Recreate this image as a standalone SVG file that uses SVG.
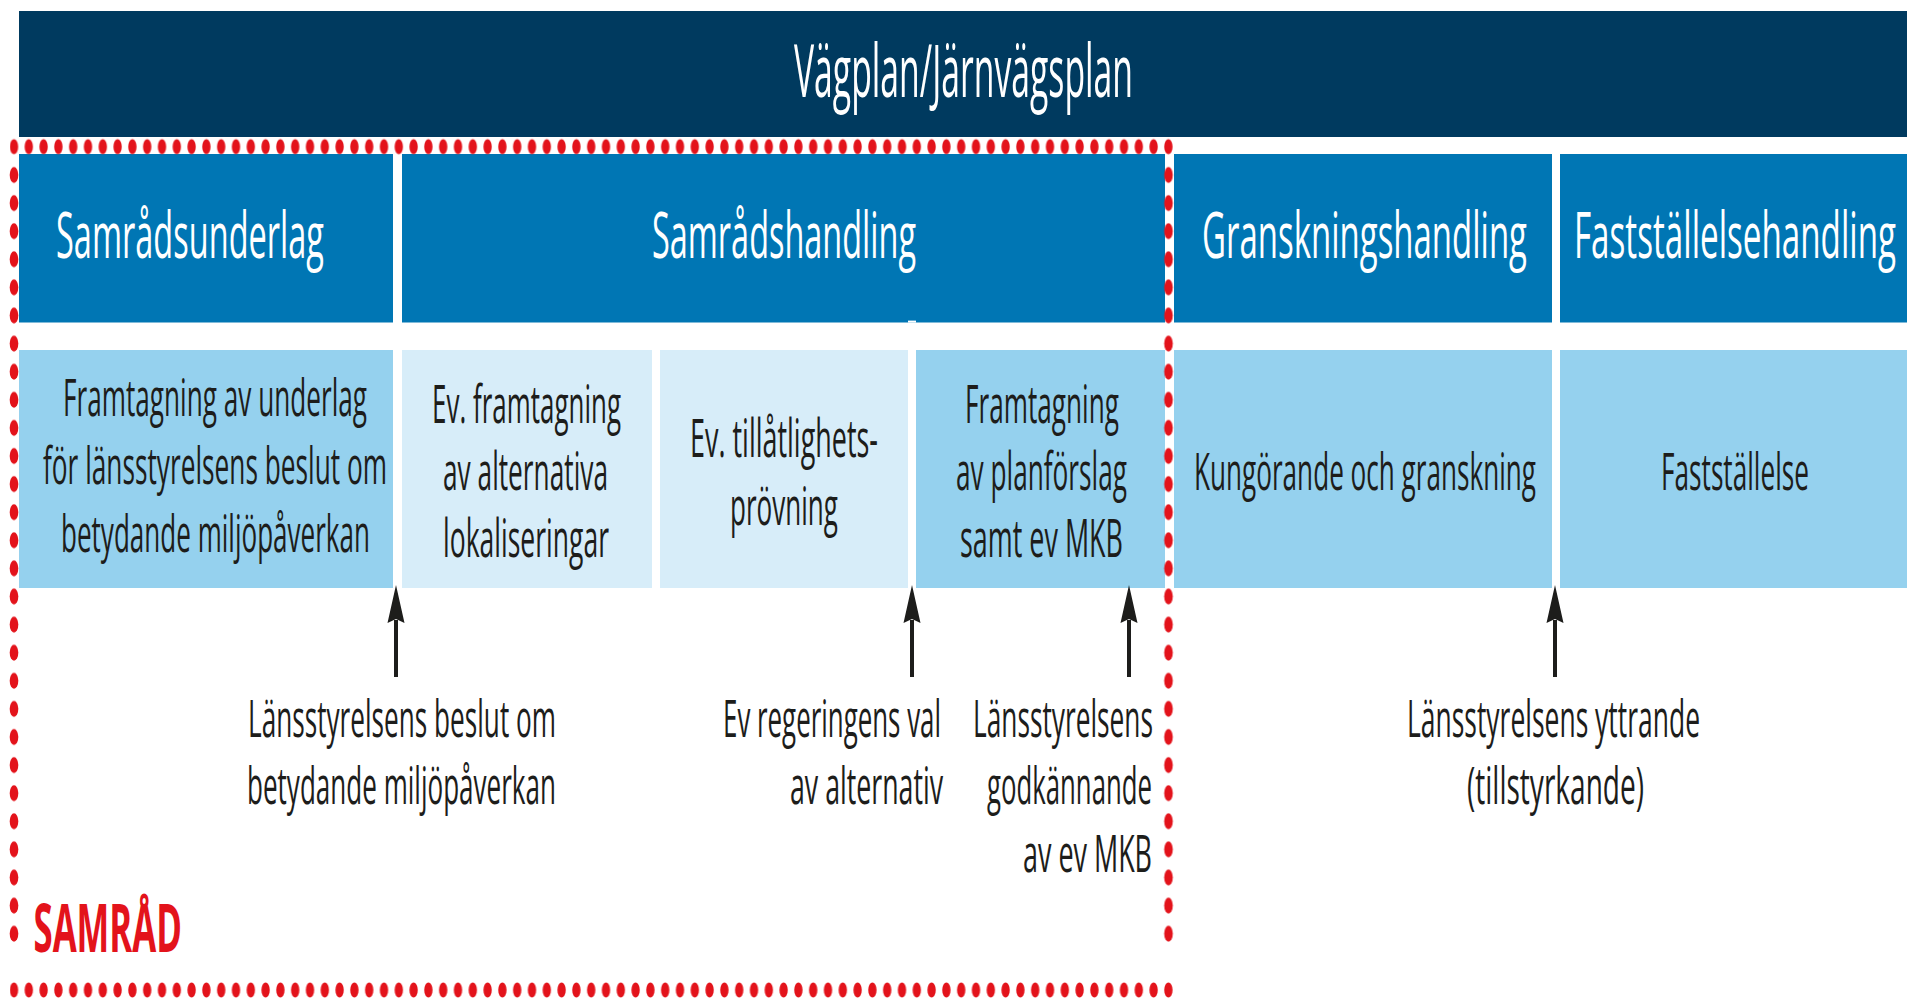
<svg xmlns="http://www.w3.org/2000/svg" width="1907" height="999" viewBox="0 0 1907 999">
<style>
text{font-family:'Liberation Sans Narrow','Open Sans','Liberation Sans',sans-serif;}
.w{fill:#ffffff;}
.d{fill:#1d1d1b;}
.dark{fill:#003a5f;}
.blue{fill:#0076b4;}
.mid{fill:#95d1ee;}
.light{fill:#d7edf9;}
.arrow{stroke:#1d1d1b;stroke-width:4;fill:none;marker-end:url(#ah);}
</style>
<defs>
<marker id="ah" markerUnits="userSpaceOnUse" viewBox="0 -10 42 20" markerWidth="42" markerHeight="20" refX="3" refY="0" orient="auto">
<path d="M0,-8.5 L38,0 L0,8.5 L4,0 Z" fill="#1d1d1b"/>
</marker>
<pattern id="hdots" patternUnits="userSpaceOnUse" x="6.6" y="0" width="14.8" height="16">
<ellipse cx="7.4" cy="8" rx="4.2" ry="7.6" fill="#e3131b"/>
</pattern>
<pattern id="vdots" patternUnits="userSpaceOnUse" x="0" y="0" width="16" height="28.1">
<ellipse cx="8" cy="14.05" rx="4.3" ry="8" fill="#e3131b"/>
</pattern>
</defs>
<rect width="1907" height="999" fill="#ffffff"/>

<g id="vagplan">
<rect class="dark" x="19" y="11" width="1888" height="126"/>
<text class="w" transform="translate(794,97) scale(0.5,1)" font-size="73" textLength="678" lengthAdjust="spacingAndGlyphs">Vägplan/Järnvägsplan</text>
</g>

<g id="samradsunderlag">
<rect class="blue" x="19" y="154" width="374" height="168.5"/>
<text class="w" transform="translate(56,258) scale(0.5,1)" font-size="64" textLength="536" lengthAdjust="spacingAndGlyphs">Samrådsunderlag</text>
</g>
<g id="samradshandling">
<rect class="blue" x="402" y="154" width="763" height="168.5"/>
<rect x="908" y="320.6" width="8" height="2" fill="#ffffff"/>
<text class="w" transform="translate(652,258) scale(0.5,1)" font-size="64" textLength="528" lengthAdjust="spacingAndGlyphs">Samrådshandling</text>
</g>
<g id="granskningshandling">
<rect class="blue" x="1174" y="154" width="378" height="168.5"/>
<text class="w" transform="translate(1202,258) scale(0.5,1)" font-size="64" textLength="650" lengthAdjust="spacingAndGlyphs">Granskningshandling</text>
</g>
<g id="faststallelsehandling">
<rect class="blue" x="1560" y="154" width="347" height="168.5"/>
<text class="w" transform="translate(1574,258) scale(0.5,1)" font-size="64" textLength="644" lengthAdjust="spacingAndGlyphs">Fastställelsehandling</text>
</g>

<g id="framtagning-underlag">
<rect class="mid" x="19" y="350" width="374" height="238"/>
<text class="d" transform="translate(63,416) scale(0.5,1)" font-size="52" textLength="608" lengthAdjust="spacingAndGlyphs">Framtagning av underlag</text>
<text class="d" transform="translate(43,484) scale(0.5,1)" font-size="52" textLength="688" lengthAdjust="spacingAndGlyphs">för länsstyrelsens beslut om</text>
<text class="d" transform="translate(61,552) scale(0.5,1)" font-size="52" textLength="618" lengthAdjust="spacingAndGlyphs">betydande miljöpåverkan</text>
</g>
<g id="framtagning-alternativ">
<rect class="light" x="402" y="350" width="250" height="238"/>
<text class="d" transform="translate(432,423) scale(0.5,1)" font-size="53" textLength="378" lengthAdjust="spacingAndGlyphs">Ev. framtagning</text>
<text class="d" transform="translate(443,490) scale(0.5,1)" font-size="53" textLength="330" lengthAdjust="spacingAndGlyphs">av alternativa</text>
<text class="d" transform="translate(443,557) scale(0.5,1)" font-size="53" textLength="332" lengthAdjust="spacingAndGlyphs">lokaliseringar</text>
</g>
<g id="tillatlighetsprovning">
<rect class="light" x="660" y="350" width="248" height="238"/>
<text class="d" transform="translate(690,457) scale(0.5,1)" font-size="53" textLength="376" lengthAdjust="spacingAndGlyphs">Ev. tillåtlighets-</text>
<text class="d" transform="translate(730,525) scale(0.5,1)" font-size="53" textLength="216" lengthAdjust="spacingAndGlyphs">prövning</text>
</g>
<g id="framtagning-planforslag">
<rect class="mid" x="916" y="350" width="249" height="238"/>
<text class="d" transform="translate(965,423) scale(0.5,1)" font-size="53" textLength="308" lengthAdjust="spacingAndGlyphs">Framtagning</text>
<text class="d" transform="translate(956,490) scale(0.5,1)" font-size="53" textLength="342" lengthAdjust="spacingAndGlyphs">av planförslag</text>
<text class="d" transform="translate(960,557) scale(0.5,1)" font-size="53" textLength="326" lengthAdjust="spacingAndGlyphs">samt ev MKB</text>
</g>
<g id="kungorande">
<rect class="mid" x="1174" y="350" width="378" height="238"/>
<text class="d" transform="translate(1194,490) scale(0.5,1)" font-size="52" textLength="684" lengthAdjust="spacingAndGlyphs">Kungörande och granskning</text>
</g>
<g id="faststallelse">
<rect class="mid" x="1560" y="350" width="347" height="238"/>
<text class="d" transform="translate(1661,490) scale(0.5,1)" font-size="52" textLength="296" lengthAdjust="spacingAndGlyphs">Fastställelse</text>
</g>

<g id="connectors">
<line class="arrow" x1="396" y1="677" x2="396" y2="620"/>
<line class="arrow" x1="912" y1="677" x2="912" y2="620"/>
<line class="arrow" x1="1129" y1="677" x2="1129" y2="620"/>
<line class="arrow" x1="1555" y1="677" x2="1555" y2="620"/>
</g>

<g id="label-beslut">
<text class="d" transform="translate(248,737) scale(0.5,1)" font-size="52" textLength="616" lengthAdjust="spacingAndGlyphs">Länsstyrelsens beslut om</text>
<text class="d" transform="translate(247,804) scale(0.5,1)" font-size="52" textLength="618" lengthAdjust="spacingAndGlyphs">betydande miljöpåverkan</text>
</g>
<g id="label-regeringen">
<text class="d" transform="translate(723,737) scale(0.5,1)" font-size="52" textLength="436" lengthAdjust="spacingAndGlyphs">Ev regeringens val</text>
<text class="d" transform="translate(790,804) scale(0.5,1)" font-size="52" textLength="306" lengthAdjust="spacingAndGlyphs">av alternativ</text>
</g>
<g id="label-godkannande">
<text class="d" transform="translate(973,737) scale(0.5,1)" font-size="52" textLength="360" lengthAdjust="spacingAndGlyphs">Länsstyrelsens</text>
<text class="d" transform="translate(987,804) scale(0.5,1)" font-size="52" textLength="330" lengthAdjust="spacingAndGlyphs">godkännande</text>
<text class="d" transform="translate(1023,872) scale(0.5,1)" font-size="52" textLength="258" lengthAdjust="spacingAndGlyphs">av ev MKB</text>
</g>
<g id="label-yttrande">
<text class="d" transform="translate(1407,737) scale(0.5,1)" font-size="52" textLength="586" lengthAdjust="spacingAndGlyphs">Länsstyrelsens yttrande</text>
<text class="d" transform="translate(1467,804) scale(0.5,1)" font-size="52" textLength="354" lengthAdjust="spacingAndGlyphs">(tillstyrkande)</text>
</g>

<g id="samrad">
<rect x="10" y="0" width="1163" height="16" fill="url(#hdots)" transform="translate(0,138.7)"/>
<rect x="10" y="0" width="1163" height="16" fill="url(#hdots)" transform="translate(0,982)"/>
<rect x="0" y="28.1" width="16" height="786.8" fill="url(#vdots)" transform="translate(6,132.85)"/>
<rect x="0" y="28.1" width="16" height="786.8" fill="url(#vdots)" transform="translate(1160.5,132.85)"/>
<text transform="translate(33.5,952) scale(0.5,1)" font-size="66" font-weight="bold" fill="#e3131b" textLength="297" lengthAdjust="spacingAndGlyphs">SAMRÅD</text>
</g>
</svg>
